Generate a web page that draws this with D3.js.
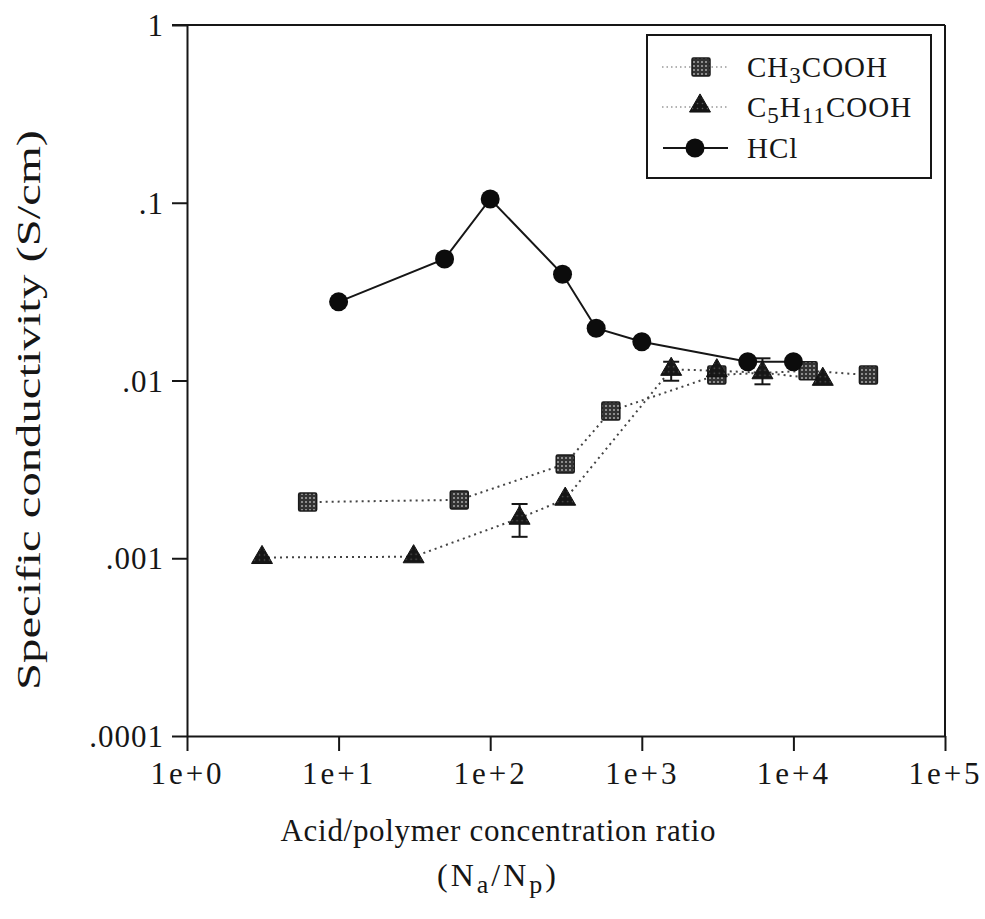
<!DOCTYPE html>
<html>
<head>
<meta charset="utf-8">
<script src="https://cdn.jsdelivr.net/npm/d3@7"></script>
<style>
  body { margin: 0; background: #fff; }
  svg { display: block; font-family: "Liberation Serif", "DejaVu Serif", serif; }
</style>
</head>
<body>
<svg width="985" height="919"></svg>
<script>
// CH3COOH (squares, dotted)
const ch3X = [6.25, 62.5, 312.5, 625, 3125, 12500, 31250];
const ch3Y = [0.00207, 0.00213, 0.00339, 0.00673, 0.01074, 0.01135, 0.01074];

// C5H11COOH (triangles, dotted)
const c5X = [3.125, 31.25, 156.25, 312.5, 1562.5, 3125, 6250, 15625];
const c5Y = [0.00101, 0.00102, 0.00168, 0.00215, 0.01156, 0.01135, 0.01106, 0.01016];
// error bars for a few triangle points
const c5ErrX = [156.25, 1562.5, 6250];
const c5ErrLo = [0.00132, 0.00997, 0.00952];
const c5ErrHi = [0.00202, 0.01275, 0.01333];

// HCl (circles, solid)
const hclX = [10, 50, 100, 300, 500, 1000, 5000, 10000];
const hclY = [0.0277, 0.0483, 0.105, 0.0396, 0.0197, 0.01653, 0.01275, 0.01275];

const xTicks = [1, 10, 100, 1000, 10000, 100000];
const xTickLabels = ["1e+0", "1e+1", "1e+2", "1e+3", "1e+4", "1e+5"];
const yTicks = [0.0001, 0.001, 0.01, 0.1, 1];
const yTickLabels = [".0001", ".001", ".01", ".1", "1"];

const svg = d3.select("svg");
const ink = "#161616";

const x = d3.scaleLog().domain([1, 1e5]).range([187, 945]);
const y = d3.scaleLog().domain([1e-4, 1]).range([736, 25]);

// patterns for the textured markers
const defs = svg.append("defs");
const pat = defs.append("pattern").attr("id", "sq")
  .attr("width", 4).attr("height", 4).attr("patternUnits", "userSpaceOnUse");
pat.append("rect").attr("width", 4).attr("height", 4).attr("fill", "#333");
pat.append("circle").attr("cx", 2).attr("cy", 2).attr("r", 1).attr("fill", "#aaa");

const pat2 = defs.append("pattern").attr("id", "tri")
  .attr("width", 5).attr("height", 5).attr("patternUnits", "userSpaceOnUse");
pat2.append("rect").attr("width", 5).attr("height", 5).attr("fill", "#161616");
pat2.append("circle").attr("cx", 2.5).attr("cy", 2.5).attr("r", 0.8).attr("fill", "#5a5a5a");

// frame: top and right borders
svg.append("line").attr("x1", 172).attr("x2", x(1e5)).attr("y1", y(1)).attr("y2", y(1))
  .attr("stroke", ink).attr("stroke-width", 2);
svg.append("line").attr("x1", x(1e5)).attr("x2", x(1e5)).attr("y1", y(1)).attr("y2", y(1e-4))
  .attr("stroke", ink).attr("stroke-width", 2);

// axes
const xAxis = d3.axisBottom(x).tickValues(xTicks)
  .tickFormat((d, i) => xTickLabels[i]).tickSize(15).tickSizeOuter(0).tickPadding(11);
const gx = svg.append("g").attr("transform", `translate(0,${y(1e-4)})`).call(xAxis);

const yAxis = d3.axisLeft(y).tickValues(yTicks)
  .tickFormat((d, i) => yTickLabels[i]).tickSize(15).tickSizeOuter(0).tickPadding(8);
const gy = svg.append("g").attr("transform", `translate(${x(1)},0)`).call(yAxis);

[gx, gy].forEach(g => {
  g.select(".domain").attr("stroke", ink).attr("stroke-width", 2);
  g.selectAll(".tick line").attr("stroke", ink).attr("stroke-width", 2);
  g.selectAll(".tick text").attr("fill", ink)
    .style("font-family", "'Liberation Serif', serif").style("font-size", "31px");
});
gx.selectAll(".tick text").style("letter-spacing", "3px");
gy.selectAll(".tick text").attr("dy", "0.34em").style("letter-spacing", "1px");

// lines
const lineGen = d3.line().x(d => x(d[0])).y(d => y(d[1]));
const ch3 = ch3X.map((v, i) => [v, ch3Y[i]]);
const c5 = c5X.map((v, i) => [v, c5Y[i]]);
const hcl = hclX.map((v, i) => [v, hclY[i]]);

svg.append("path").datum(ch3).attr("d", lineGen).attr("fill", "none")
  .attr("stroke", "#444").attr("stroke-width", 2).attr("stroke-dasharray", "2,4");
svg.append("path").datum(c5).attr("d", lineGen).attr("fill", "none")
  .attr("stroke", "#444").attr("stroke-width", 2).attr("stroke-dasharray", "2,4");
svg.append("path").datum(hcl).attr("d", lineGen).attr("fill", "none")
  .attr("stroke", ink).attr("stroke-width", 2);

// error bars
const err = svg.append("g").attr("stroke", ink).attr("stroke-width", 2);
c5ErrX.forEach((v, i) => {
  err.append("line").attr("x1", x(v)).attr("x2", x(v)).attr("y1", y(c5ErrLo[i])).attr("y2", y(c5ErrHi[i]));
  err.append("line").attr("x1", x(v) - 8).attr("x2", x(v) + 8).attr("y1", y(c5ErrLo[i])).attr("y2", y(c5ErrLo[i]));
  err.append("line").attr("x1", x(v) - 8).attr("x2", x(v) + 8).attr("y1", y(c5ErrHi[i])).attr("y2", y(c5ErrHi[i]));
});

// markers
const triSym = d3.symbol().type(d3.symbolTriangle).size(190);
svg.append("g").selectAll("rect").data(ch3).join("rect")
  .attr("x", d => x(d[0]) - 9).attr("y", d => y(d[1]) - 9)
  .attr("width", 18).attr("height", 18).attr("rx", 1.5)
  .attr("fill", "url(#sq)").attr("stroke", "#1a1a1a").attr("stroke-width", 1.5);
svg.append("g").selectAll("path").data(c5).join("path")
  .attr("d", triSym).attr("transform", d => `translate(${x(d[0])},${y(d[1])})`)
  .attr("fill", "url(#tri)").attr("stroke", "#111").attr("stroke-width", 1);
svg.append("g").selectAll("circle").data(hcl).join("circle")
  .attr("cx", d => x(d[0])).attr("cy", d => y(d[1])).attr("r", 9.5)
  .attr("fill", "#0c0c0c");

// legend
const lg = svg.append("g");
lg.append("rect").attr("x", 647).attr("y", 35).attr("width", 284).attr("height", 143)
  .attr("fill", "#fff").attr("stroke", ink).attr("stroke-width", 2);
const rows = [67, 107, 148];
lg.append("line").attr("x1", 662).attr("x2", 728).attr("y1", rows[0]).attr("y2", rows[0])
  .attr("stroke", "#999").attr("stroke-width", 1.5).attr("stroke-dasharray", "1.5,3");
lg.append("rect").attr("x", 692).attr("y", rows[0] - 9).attr("width", 18).attr("height", 18)
  .attr("rx", 1.5).attr("fill", "url(#sq)").attr("stroke", "#1a1a1a").attr("stroke-width", 1.5);
lg.append("line").attr("x1", 662).attr("x2", 728).attr("y1", rows[1]).attr("y2", rows[1])
  .attr("stroke", "#999").attr("stroke-width", 1.5).attr("stroke-dasharray", "1.5,3");
lg.append("path").attr("d", triSym).attr("transform", `translate(700,${rows[1] - 1})`)
  .attr("fill", "url(#tri)").attr("stroke", "#111");
lg.append("line").attr("x1", 663).attr("x2", 728).attr("y1", rows[2]).attr("y2", rows[2])
  .attr("stroke", ink).attr("stroke-width", 2);
lg.append("circle").attr("cx", 695).attr("cy", rows[2]).attr("r", 9.5).attr("fill", "#0c0c0c");

const lt = lg.append("g").attr("fill", ink).style("font-size", "29px").style("letter-spacing", "1px");
const t1 = lt.append("text").attr("x", 747).attr("y", rows[0] + 10);
t1.append("tspan").text("CH");
t1.append("tspan").attr("dy", 6).style("font-size", "23px").text("3");
t1.append("tspan").attr("dy", -6).text("COOH");
const t2 = lt.append("text").attr("x", 747).attr("y", rows[1] + 10);
t2.append("tspan").text("C");
t2.append("tspan").attr("dy", 6).style("font-size", "23px").text("5");
t2.append("tspan").attr("dy", -6).text("H");
t2.append("tspan").attr("dy", 6).style("font-size", "23px").text("11");
t2.append("tspan").attr("dy", -6).text("COOH");
lt.append("text").attr("x", 747).attr("y", rows[2] + 10).text("HCl");

// axis titles
svg.append("text").attr("transform", "translate(40,410) rotate(-90)")
  .attr("text-anchor", "middle").attr("fill", ink).style("font-size", "34px")
  .attr("textLength", 560).attr("lengthAdjust", "spacingAndGlyphs")
  .text("Specific conductivity (S/cm)");

svg.append("text").attr("x", 498).attr("y", 841).attr("text-anchor", "middle")
  .attr("fill", ink).style("font-size", "31px")
  .attr("textLength", 435).attr("lengthAdjust", "spacing")
  .text("Acid/polymer concentration ratio");

const t3 = svg.append("text").attr("x", 498).attr("y", 886).attr("text-anchor", "middle")
  .attr("fill", ink).style("font-size", "32px").style("letter-spacing", "3px");
t3.append("tspan").text("(N");
t3.append("tspan").attr("dy", 7).style("font-size", "26px").text("a");
t3.append("tspan").attr("dy", -7).text("/N");
t3.append("tspan").attr("dy", 7).style("font-size", "26px").text("p");
t3.append("tspan").attr("dy", -7).text(")");
</script>
</body>
</html>
